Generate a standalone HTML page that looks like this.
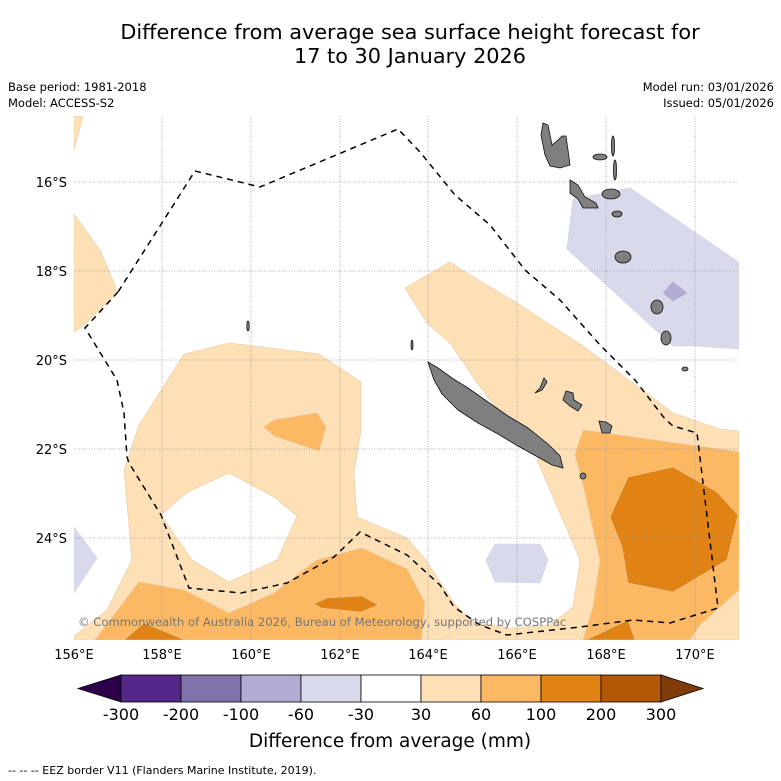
<!DOCTYPE html>
<html><head><meta charset="utf-8"><style>
body{margin:0;background:#fff;font-family:"Liberation Sans",sans-serif}
svg{display:block}
text{font-family:"DejaVu Sans","Liberation Sans",sans-serif}
</style></head><body>
<svg width="781" height="781" viewBox="0 0 781 781">
<text x="410" y="39" font-size="20.8" text-anchor="middle">Difference from average sea surface height forecast for</text>
<text x="410" y="63" font-size="20.8" text-anchor="middle">17 to 30 January 2026</text>
<text x="8" y="91" font-size="11.5">Base period: 1981-2018</text>
<text x="8" y="107" font-size="11.5">Model: ACCESS-S2</text>
<text x="774" y="91" font-size="11.5" text-anchor="end">Model run: 03/01/2026</text>
<text x="774" y="107" font-size="11.5" text-anchor="end">Issued: 05/01/2026</text>
<defs><clipPath id="mc"><rect x="74" y="116" width="665" height="524"/></clipPath></defs>
<g clip-path="url(#mc)">
<g stroke="#e8c9a0" stroke-width="0.6">
<polygon fill="#fde0b6" points="74,116 83,116 74,150"/>
<polygon fill="#fde0b6" points="74,214 100,250 118,292 84,325 74,332"/>
<polygon fill="#fde0b6" points="229,343 319,354 361,382 361,430 354,473 357,517 407,538 426,560 454,603 475,625 490,640 74,640 74,636 107,610 132,560 124,470 139,425 184,354"/>
<polygon fill="#fde0b6" points="405,288 450,262 467,273 517,303 583,346 633,383 673,413 720,429 739,431 739,640 440,640 470,622 510,628 550,625 573,607 580,560 537,460 540,449 497,409 477,383 450,343 427,323"/>
<polygon fill="#ffffff" points="229,473 186,493 161,515 192,560 229,582 277,560 297,516 274,497"/>
<polygon fill="#fdb863" points="264,427 274,420 317,413 326,427 319,451 274,436"/>
<polygon fill="#fdb863" points="139,582 184,590 229,613 274,593 317,560 362,548 407,569 425,603 421,640 95,640 120,607"/>
<polygon fill="#fdb863" points="583,430 740,452 739,590 700,625 690,640 583,640 593,607 600,560 582,480 575,455"/>
<polygon fill="#e08214" points="628,477 673,467 717,492 738,515 727,560 673,592 628,583 622,547 610,517"/>
<polygon fill="#e08214" points="314,604 327,598 362,596 378,605 361,612 321,608"/>
<polygon fill="#e08214" points="124,640 144,623 185,640"/>
<polygon fill="#e08214" points="586,640 628,620 635,640"/>
<polygon fill="#d8daeb" stroke="#d0d0e4" points="573,199 630,188 740,263 740,349 693,346 673,346 567,249"/>
<polygon fill="#b2abd2" stroke="#b2abd2" points="663,293 673,282 687,293 673,301"/>
<polygon fill="#d8daeb" stroke="#d0d0e4" points="74,527 97,558 74,593"/>
<polygon fill="#d8daeb" stroke="#d0d0e4" points="495,544 540,544 548,560 540,583 495,582 486,560"/>
</g>
<g stroke="#999" stroke-width="0.8" stroke-dasharray="1,1.5">
<line x1="162" y1="116" x2="162" y2="640"/><line x1="251" y1="116" x2="251" y2="640"/><line x1="340" y1="116" x2="340" y2="640"/><line x1="428" y1="116" x2="428" y2="640"/><line x1="517" y1="116" x2="517" y2="640"/><line x1="606" y1="116" x2="606" y2="640"/><line x1="695" y1="116" x2="695" y2="640"/>
<line x1="74" y1="182" x2="739" y2="182"/><line x1="74" y1="271" x2="739" y2="271"/><line x1="74" y1="360" x2="739" y2="360"/><line x1="74" y1="449" x2="739" y2="449"/><line x1="74" y1="538" x2="739" y2="538"/>
</g>
<g fill="#7f7f7f" stroke="#111" stroke-width="0.8">
<polygon points="428,362 438,368 452,378 468,388 488,402 508,416 528,428 548,444 560,456 563,468 552,465 536,456 518,446 498,434 478,423 458,410 442,394 434,380"/>
<polygon points="543,123 548,125 552,145 558,140 562,136 566,136 568,150 570,165 560,168 550,166 545,155 541,135"/>
<polygon points="570,180 578,185 585,197 596,203 598,208 583,208 578,199 570,193"/>
<ellipse cx="600" cy="157" rx="7" ry="3"/>
<ellipse cx="613" cy="146" rx="1.5" ry="10"/>
<ellipse cx="615" cy="170" rx="1.5" ry="10"/>
<ellipse cx="611" cy="194" rx="9" ry="5"/>
<ellipse cx="617" cy="214" rx="5" ry="3"/>
<ellipse cx="623" cy="257" rx="8" ry="6"/>
<ellipse cx="657" cy="307" rx="6" ry="7"/>
<ellipse cx="666" cy="338" rx="5" ry="7"/>
<ellipse cx="685" cy="369" rx="3" ry="2"/>
<polygon points="544,378 547,382 542,390 535,393 540,388"/>
<polygon points="566,391 573,393 574,400 582,405 578,411 570,406 563,400"/>
<polygon points="599,421 606,422 612,426 610,433 602,433"/>
<ellipse cx="583" cy="476" rx="3" ry="3"/>
<ellipse cx="248" cy="326" rx="1.2" ry="5"/>
<ellipse cx="412" cy="345" rx="1" ry="5"/>
</g>
<polygon fill="none" stroke="#000" stroke-width="1.5" stroke-dasharray="6,5" points="118,292 85,328 117,380 124,413 127,457 129,463 161,515 189,588 241,593 287,583 334,557 360,532 407,555 440,585 454,607 480,625 507,635 580,627 633,620 670,623 718,608 697,433 673,426 665,419 635,380 600,345 560,300 525,270 490,225 455,195 420,152 398,129 260,187 195,171"/>
<text x="78" y="626" font-size="11.6" fill="#777">© Commonwealth of Australia 2026, Bureau of Meteorology, supported by COSPPac</text>
</g>
<g font-size="13" fill="#000">
<text x="67" y="187" text-anchor="end">16°S</text><text x="67" y="276" text-anchor="end">18°S</text><text x="67" y="365" text-anchor="end">20°S</text><text x="67" y="454" text-anchor="end">22°S</text><text x="67" y="543" text-anchor="end">24°S</text>
</g>
<g font-size="13" fill="#000" text-anchor="middle">
<text x="74" y="659">156°E</text><text x="162" y="659">158°E</text><text x="251" y="659">160°E</text><text x="340" y="659">162°E</text><text x="428" y="659">164°E</text><text x="517" y="659">166°E</text><text x="606" y="659">168°E</text><text x="695" y="659">170°E</text>
</g>
<g stroke="#000" stroke-width="0.8">
<polygon fill="#2d004b" points="121,675 78,688.5 121,702"/>
<rect x="121" y="675" width="60" height="27" fill="#542788"/>
<rect x="181" y="675" width="60" height="27" fill="#8073ac"/>
<rect x="241" y="675" width="60" height="27" fill="#b2abd2"/>
<rect x="301" y="675" width="60" height="27" fill="#d8daeb"/>
<rect x="361" y="675" width="60" height="27" fill="#ffffff"/>
<rect x="421" y="675" width="60" height="27" fill="#fee0b6"/>
<rect x="481" y="675" width="60" height="27" fill="#fdb863"/>
<rect x="541" y="675" width="60" height="27" fill="#e08214"/>
<rect x="601" y="675" width="60" height="27" fill="#b35806"/>
<polygon fill="#7f3b08" points="661,675 703,688.5 661,702"/>
</g>
<g font-size="16" text-anchor="middle">
<text x="121" y="720">-300</text><text x="181" y="720">-200</text><text x="241" y="720">-100</text><text x="301" y="720">-60</text><text x="361" y="720">-30</text><text x="421" y="720">30</text><text x="481" y="720">60</text><text x="541" y="720">100</text><text x="601" y="720">200</text><text x="661" y="720">300</text>
</g>
<text x="390" y="747" font-size="18.5" text-anchor="middle">Difference from average (mm)</text>
<text x="8" y="774" font-size="11">--  --  -- EEZ border V11 (Flanders Marine Institute, 2019).</text>
</svg>
</body></html>
